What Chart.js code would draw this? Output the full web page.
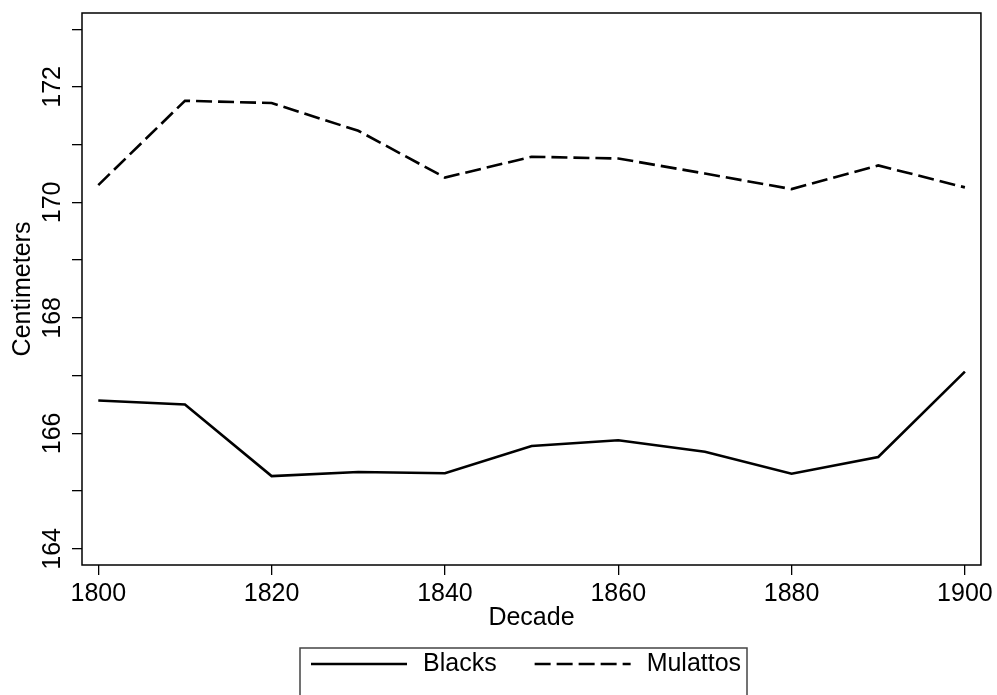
<!DOCTYPE html>
<html>
<head>
<meta charset="utf-8">
<script src="https://cdn.jsdelivr.net/npm/chart.js@4/dist/chart.umd.min.js"></script>
<style>
  html, body { margin: 0; padding: 0; background: #fff; }
  #wrap { width: 997px; height: 695px; }
</style>
</head>
<body>
<div id="wrap"><canvas id="heightChart" width="997" height="695"></canvas></div>
<script>
  // values
  const decades = [1800, 1810, 1820, 1830, 1840, 1850, 1860, 1870, 1880, 1890, 1900];
  const blacks = [166.57, 166.50, 165.26, 165.33, 165.31, 165.78, 165.88, 165.68, 165.30, 165.59, 167.07];
  const mulattos = [170.30, 171.76, 171.72, 171.24, 170.43, 170.79, 170.76, 170.50, 170.23, 170.64, 170.26];
  const xTickLabels = [1800, 1820, 1840, 1860, 1880, 1900];
  const yTickLabels = [164, 166, 168, 170, 172];

  const FONT = '"Liberation Sans", Arial, Helvetica, sans-serif';

  function toPoints(vals) {
    return decades.map((d, i) => ({ x: d, y: vals[i] }));
  }

  // box around the plot area
  const framePlugin = {
    id: 'frame',
    afterDraw(chart) {
      const a = chart.chartArea;
      const ctx = chart.ctx;
      ctx.save();
      ctx.strokeStyle = '#000';
      ctx.lineWidth = 1.5;
      ctx.strokeRect(a.left, a.top, a.right - a.left, a.bottom - a.top);
      ctx.restore();
    }
  };

  // boxed legend under the axis title, like the original
  const boxLegend = {
    id: 'boxLegend',
    afterDraw(chart) {
      const ctx = chart.ctx;
      ctx.save();
      ctx.strokeStyle = '#444';
      ctx.lineWidth = 1.5;
      ctx.strokeRect(300, 648, 447, 60);
      ctx.font = '25px ' + FONT;
      ctx.textBaseline = 'middle';
      ctx.fillStyle = '#000';
      let x = 311;
      const y = 664;
      chart.data.datasets.forEach(ds => {
        ctx.beginPath();
        ctx.setLineDash(ds.borderDash || []);
        ctx.strokeStyle = ds.borderColor;
        ctx.lineWidth = ds.borderWidth;
        ctx.moveTo(x, y);
        ctx.lineTo(x + 96, y);
        ctx.stroke();
        ctx.setLineDash([]);
        ctx.fillText(ds.label, x + 112, y);
        x = x + 112 + ctx.measureText(ds.label).width + 38;
      });
      ctx.restore();
    }
  };

  const ctx = document.getElementById('heightChart').getContext('2d');
  new Chart(ctx, {
    type: 'line',
    data: {
      datasets: [
        {
          label: 'Blacks',
          data: toPoints(blacks),
          borderColor: '#000',
          borderWidth: 2.6,
          pointRadius: 0,
          tension: 0
        },
        {
          label: 'Mulattos',
          data: toPoints(mulattos),
          borderColor: '#000',
          borderWidth: 2.6,
          borderDash: [16, 6],
          pointRadius: 0,
          tension: 0
        }
      ]
    },
    options: {
      responsive: false,
      animation: false,
      layout: { padding: { top: 12, right: 16, left: 0, bottom: 58 } },
      plugins: {
        legend: { display: false },
        tooltip: { enabled: false }
      },
      scales: {
        x: {
          type: 'linear',
          min: 1798.12,
          max: 1901.85,
          afterFit(scale) { scale.height = 72; },
          border: { display: false },
          grid: { drawOnChartArea: false, drawTicks: true, tickLength: 10, color: '#000', lineWidth: 1.3 },
          ticks: {
            stepSize: 20,
            includeBounds: false,
            autoSkip: false,
            maxRotation: 0,
            padding: 4,
            color: '#000',
            font: { family: FONT, size: 25 },
            callback: v => xTickLabels.includes(v) ? String(v) : ''
          },
          title: {
            display: true,
            text: 'Decade',
            color: '#000',
            font: { family: FONT, size: 25 },
            padding: { top: 0, bottom: 4 }
          }
        },
        y: {
          min: 163.72,
          max: 173.28,
          afterFit(scale) { scale.width = 82; },
          border: { display: false },
          grid: { drawOnChartArea: false, drawTicks: true, tickLength: 10, color: '#000', lineWidth: 1.3 },
          ticks: {
            stepSize: 1,
            includeBounds: false,
            autoSkip: false,
            minRotation: 90,
            maxRotation: 90,
            crossAlign: 'center',
            padding: -2,
            color: '#000',
            font: { family: FONT, size: 25 },
            callback: v => yTickLabels.includes(v) ? String(v) : ''
          },
          title: {
            display: true,
            text: 'Centimeters',
            color: '#000',
            font: { family: FONT, size: 25 },
            padding: { top: 8, bottom: 0 }
          }
        }
      }
    },
    plugins: [framePlugin, boxLegend]
  });
</script>
</body>
</html>
